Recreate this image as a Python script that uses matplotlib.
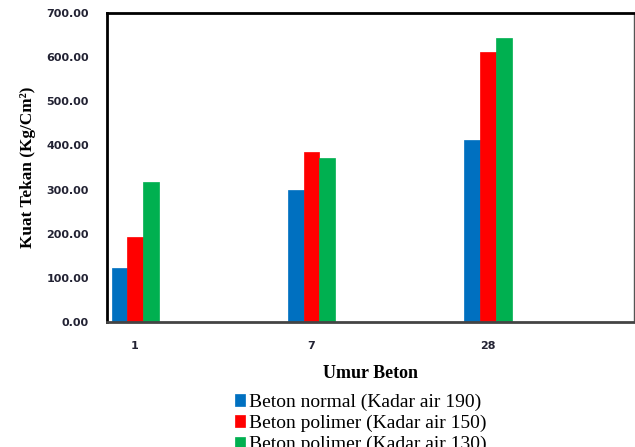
import matplotlib.pyplot as plt
import numpy as np

umur = ["1", "7", "28"]
normal_190 = [123, 300, 412]
polimer_150 = [192, 384, 611]
polimer_130 = [318, 371, 644]

labels = [
    "Beton normal (Kadar air 190)",
    "Beton polimer (Kadar air 150)",
    "Beton polimer (Kadar air 130)",
]
colors = ["#0070C0", "#FF0000", "#00B050"]


def main():
    fig = plt.figure(figsize=(6.35, 4.47), dpi=100)
    ax = fig.add_axes([107 / 635, 1 - 322 / 447, 527 / 635, 309 / 447])

    x = np.arange(len(umur))
    w = 0.089
    for i, (vals, lab, c) in enumerate(zip([normal_190, polimer_150, polimer_130], labels, colors)):
        ax.bar(x + (i - 1) * w, vals, w, color=c, edgecolor=c, linewidth=0.5,
               label=lab, zorder=2)

    ax.set_ylim(0, 700)
    ax.set_xlim(-0.159, 2.827)
    ax.set_yticks(np.arange(0, 701, 100))
    ax.set_yticklabels(["%.2f" % v for v in np.arange(0, 701, 100)],
                       fontsize=8, fontweight="bold", color="#222233",
                       family="DejaVu Sans")
    ax.set_xticks(x)
    ax.set_xticklabels(umur, fontsize=8, fontweight="bold", color="#222233",
                       family="DejaVu Sans")
    ax.tick_params(axis="both", length=0)
    ax.tick_params(axis="x", pad=14)
    ax.tick_params(axis="y", pad=13)

    for side in ["top", "left"]:
        ax.spines[side].set_linewidth(2)
        ax.spines[side].set_color("black")
    ax.spines["bottom"].set_linewidth(2)
    ax.spines["bottom"].set_color("#444444")
    ax.spines["right"].set_linewidth(1)
    ax.spines["right"].set_color("#555555")

    ax.set_ylabel("Kuat Tekan (Kg/Cm²)", family="Liberation Serif",
                  fontsize=12.4, fontweight="bold")
    ax.yaxis.set_label_coords(-0.135, 0.5)
    ax.set_xlabel("Umur Beton", family="Liberation Serif", fontsize=13,
                  fontweight="bold", labelpad=10)

    fig.legend(loc="upper left", bbox_to_anchor=(225 / 635, 1 - 384 / 447),
               frameon=False, prop={"family": "Liberation Serif", "size": 14},
               handlelength=0.55, handleheight=0.55, handletextpad=0.2,
               labelspacing=0.2, borderpad=0)

    fig.savefig("out.png", dpi=100)


if __name__ == "__main__":
    main()
